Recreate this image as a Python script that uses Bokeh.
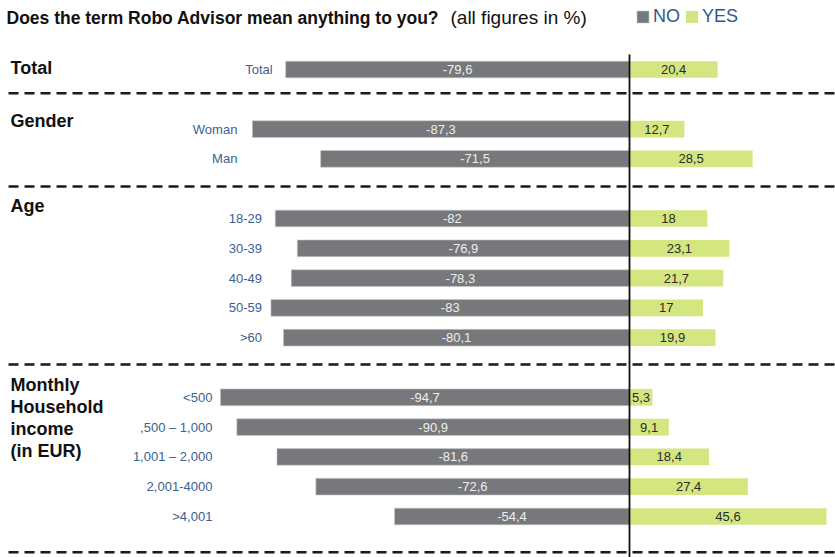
from bokeh.plotting import figure
from bokeh.models import ColumnDataSource, Range1d, Label, Legend, LegendItem
from bokeh.core.properties import value
from bokeh.embed import file_html
from bokeh.resources import INLINE

# ---- data ----
groups = ["Total", "Gender", "Age", "Monthly\nHousehold\nincome\n(in EUR)"]
categories = ["Total", "Woman", "Man", "18-29", "30-39", "40-49", "50-59", ">60",
              "<500", ",500 \u2013 1,000", "1,001 \u2013 2,000", "2,001-4000", ">4,001"]
group_of = [0, 1, 1, 2, 2, 2, 2, 2, 3, 3, 3, 3, 3]
no_values = [-79.6, -87.3, -71.5, -82, -76.9, -78.3, -83, -80.1, -94.7, -90.9, -81.6, -72.6, -54.4]
yes_values = [20.4, 12.7, 28.5, 18, 23.1, 21.7, 17, 19.9, 5.3, 9.1, 18.4, 27.4, 45.6]
legend_labels = ["NO", "YES"]
title_text = "Does the term  Robo Advisor mean anything to you?"
subtitle_text = "(all figures in %)"

FONT = "Liberation Sans"
NO_COLOR = "#77787b"
YES_COLOR = "#d4e680"
CAT_COLOR = "#3a6190"

def fmt(v):
    return f"{v:g}".replace(".", ",")

# row slots: one empty slot between groups
slots = [i + g for i, g in enumerate(group_of)]
group_min = {}
for g, n in zip(group_of, no_values):
    group_min[g] = min(group_min.get(g, 0), n)

W, H = 835, 557
PX = 4.32        # pixels per percentage point
ZERO_PX = 629    # x pixel of zero line
SLOT_PX = 29.8   # pixels per row slot
FIRST_PX = 69    # y pixel of first row

cat_gap = [13, 15, 9, 8]  # pixel gap between labels and longest bar in group

src = ColumnDataSource(dict(
    slot=slots,
    cat=categories,
    no=no_values,
    yes=yes_values,
    no_mid=[n / 2 for n in no_values],
    yes_mid=[y / 2 for y in yes_values],
    no_lbl=[fmt(n) for n in no_values],
    yes_lbl=[fmt(y) for y in yes_values],
    cat_x=[group_min[g] - cat_gap[g] / PX for g in group_of],
))

x_range = Range1d(-ZERO_PX / PX, (W - ZERO_PX) / PX)
y_range = Range1d((H - FIRST_PX) / SLOT_PX, -FIRST_PX / SLOT_PX)

p = figure(width=W, height=H, x_range=x_range, y_range=y_range,
           x_axis_type=None, y_axis_type=None,
           toolbar_location=None, output_backend="svg",
           min_border=0, min_border_left=0, min_border_right=0,
           min_border_top=0, min_border_bottom=0)
p.grid.visible = False
p.outline_line_color = None
p.background_fill_color = "white"
p.border_fill_color = "white"

# separators (dashed)
first_slot = {}
last_slot = {}
for s, g in zip(slots, group_of):
    first_slot.setdefault(g, s)
    last_slot[g] = s
sep_off = [0.8, 0.93, 0.9, 1.2]
sep_y = [last_slot[g] + sep_off[g] for g in range(len(groups))]
x_left = x_range.start + 8 / PX
p.segment(x0=[x_left] * len(sep_y), x1=[x_range.end] * len(sep_y), y0=sep_y, y1=sep_y,
          line_color="#1a1a1a", line_width=2.5, line_dash="10 6")

# bars
r_no = p.hbar(y="slot", left="no", right=0, height=0.56, source=src,
              fill_color=NO_COLOR, line_color="#c8c9cb", line_width=0.6)
r_yes = p.hbar(y="slot", left=0, right="yes", height=0.56, source=src,
               fill_color=YES_COLOR, line_color=None)

# zero line
p.segment(x0=[0], x1=[0], y0=[min(slots) - 0.5], y1=[y_range.start], line_color="#111111", line_width=1.8)

# value labels
p.text(x="no_mid", y="slot", text="no_lbl", source=src, text_align="center",
       text_baseline="middle", text_color="#eeeeee", text_font=value(FONT),
       text_font_size="13px")
p.text(x="yes_mid", y="slot", text="yes_lbl", source=src, text_align="center",
       text_baseline="middle", text_color="#2a2a2a", text_font=value(FONT),
       text_font_size="13px")

# category labels
p.text(x="cat_x", y="slot", text="cat", source=src, text_align="right",
       text_baseline="middle", text_color=CAT_COLOR, text_font=value(FONT),
       text_font_size="13px")

# group headers
hdr_off = [-12, -18, -23, -22]
hdr_src = ColumnDataSource(dict(
    x=[x_range.start + 10 / PX] * len(groups),
    y=[first_slot[g] + hdr_off[g] / SLOT_PX for g in range(len(groups))],
    t=groups,
))
p.text(x="x", y="y", text="t", source=hdr_src, text_align="left", text_baseline="top",
       text_color="#111111", text_font=value(FONT), text_font_size="18px",
       text_font_style="bold", text_line_height=1.09)

# title
p.add_layout(Label(x=6, y=H - 17, x_units="screen", y_units="screen", text=title_text,
                   text_font=FONT, text_font_size="17.5px", text_font_style="bold",
                   text_color="#111111", text_baseline="middle"))
p.add_layout(Label(x=450, y=H - 17, x_units="screen", y_units="screen", text=subtitle_text,
                   text_font=FONT, text_font_size="19px",
                   text_color="#111111", text_baseline="middle"))

# legend
legend = Legend(items=[LegendItem(label=legend_labels[0], renderers=[r_no]),
                       LegendItem(label=legend_labels[1], renderers=[r_yes])],
                orientation="horizontal", location=(635, H - 27),
                glyph_width=15, glyph_height=15, label_height=15, label_width=10,
                label_standoff=3, spacing=4, padding=0, margin=0,
                border_line_color=None, background_fill_alpha=0,
                label_text_font=FONT, label_text_font_size="18px",
                label_text_color="#2e5a88")
p.add_layout(legend)

open("out.html", "w").write(file_html(p, INLINE))
